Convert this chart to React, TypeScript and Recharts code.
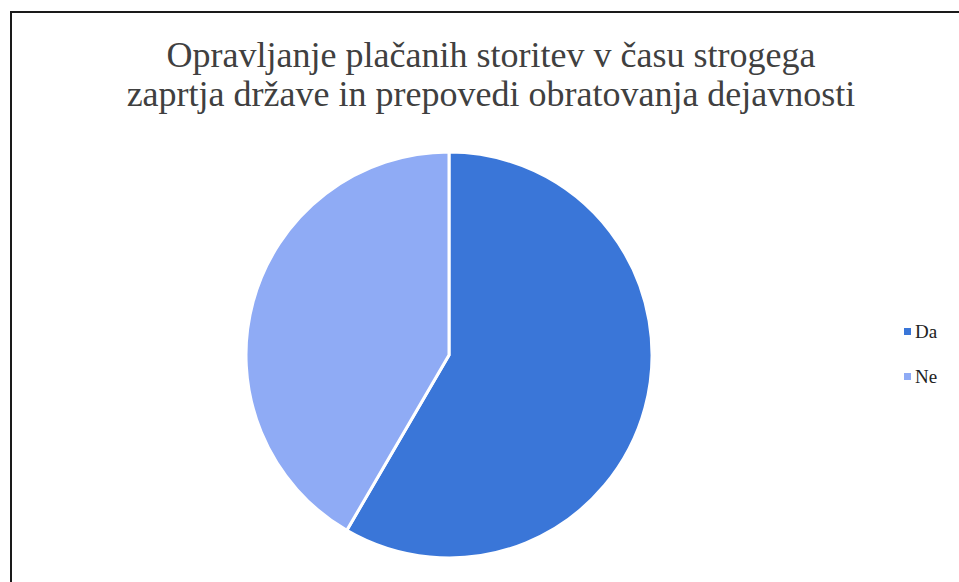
import React from "react";
import { PieChart, Pie, Cell, Legend } from "recharts";

const title = [
  "Opravljanje plačanih storitev v času strogega",
  "zaprtja države in prepovedi obratovanja dejavnosti",
];
const categories = ["Da", "Ne"];
const shares = [58.4, 41.6];
const colors = ["#3a76d8", "#8fabf5"];

const data = categories.map((name, i) => ({ name, value: shares[i] }));

const FONT = '"Liberation Serif", "DejaVu Serif", serif';

function LegendBox() {
  return (
    <div style={{ fontFamily: FONT, fontSize: 19, color: "#222" }}>
      {categories.map((c, i) => (
        <div key={c} style={{ display: "flex", alignItems: "center", height: 45 }}>
          <span
            style={{
              width: 7,
              height: 7,
              background: colors[i],
              display: "inline-block",
              marginRight: 4,
            }}
          />
          {c}
        </div>
      ))}
    </div>
  );
}

export default function App() {
  return (
    <div
      style={{
        position: "absolute",
        left: 0,
        top: 0,
        width: 959,
        height: 582,
        overflow: "hidden",
        background: "#fff",
      }}
    >
      <div
        style={{
          position: "absolute",
          left: 10,
          top: 11,
          width: 1000,
          height: 700,
          borderTop: "2px solid #1a1a1a",
          borderLeft: "2px solid #1a1a1a",
        }}
      />
      <div
        style={{
          position: "absolute",
          left: 0,
          top: 36,
          width: 982,
          textAlign: "center",
          fontFamily: FONT,
          fontSize: 36,
          lineHeight: "39px",
          color: "#404040",
        }}
      >
        {title.map((t) => (
          <div key={t}>{t}</div>
        ))}
      </div>
      <div style={{ position: "absolute", left: 0, top: 0 }}>
        <PieChart width={959} height={582} margin={{ top: 0, right: 0, bottom: 0, left: 0 }}>
          <Pie
            data={data}
            dataKey="value"
            nameKey="name"
            cx={449}
            cy={355}
            outerRadius={203}
            startAngle={90}
            endAngle={-270}
            stroke="#ffffff"
            strokeWidth={3}
            isAnimationActive={false}
          >
            {data.map((d, i) => (
              <Cell key={d.name} fill={colors[i]} />
            ))}
          </Pie>
          <Legend
            content={<LegendBox />}
            wrapperStyle={{ left: 904, top: 309, width: 60 }}
          />
        </PieChart>
      </div>
    </div>
  );
}
